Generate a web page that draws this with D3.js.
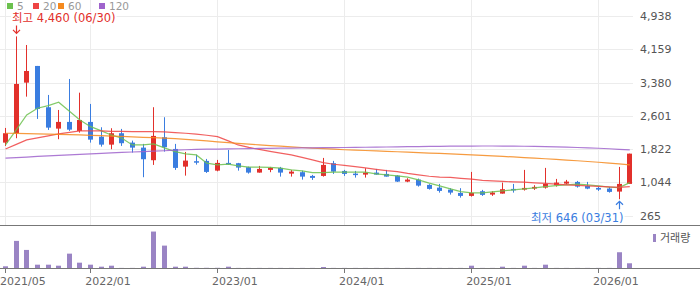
<!DOCTYPE html>
<html>
<head>
<meta charset="utf-8">
<script src="https://cdn.jsdelivr.net/npm/d3@7"></script>
<style>
	body{margin:0;background:#fff;}
	svg{display:block;font-family:"DejaVu Sans",sans-serif;}
</style>
</head>
<body>
<svg id="Chart" width="700" height="289"></svg>
<script>
var months = [
	"2021-05","2021-06","2021-07","2021-08","2021-09","2021-10","2021-11","2021-12",
	"2022-01","2022-02","2022-03","2022-04","2022-05","2022-06","2022-07","2022-08","2022-09","2022-10","2022-11","2022-12",
	"2023-01","2023-02","2023-03","2023-04","2023-05","2023-06","2023-07","2023-08","2023-09","2023-10","2023-11","2023-12",
	"2024-01","2024-02","2024-03","2024-04","2024-05","2024-06","2024-07","2024-08","2024-09","2024-10","2024-11","2024-12",
	"2025-01","2025-02","2025-03","2025-04","2025-05","2025-06","2025-07","2025-08","2025-09","2025-10","2025-11","2025-12",
	"2026-01","2026-02","2026-03","2026-04"
];
var opens  = [1972,2192,3377,3768,2801,2300,2457,2246, 2457,2112,1925,2192,1972,1855,1560,2098,1824,1410,1537,1544,
	1316,1497,1490,1396,1270,1333,1380,1246,1279,1192,1192,1490, 1309,1246,1223,1270,1239,1199,1059,1106,982,918,872,794,
	724,834,755,778,888,872,896,918,975,1012,1052,958, 911,896,825,1005];
var highs  = [2316,4460,4259,3768,3089,2737,3463,3142, 2878,2332,2309,2293,2019,1942,2801,2567,1942,1754,1691,1590,
	1567,1801,1497,1410,1426,1403,1403,1333,1316,1216,1614,1544, 1333,1309,1373,1356,1333,1210,1138,1130,998,1005,905,905,
	1286,865,834,1036,1005,1333,975,1380,1122,1099,1075,1052, 942,935,1403,1714];
var lows   = [1895,2075,3049,2527,2269,2052,2246,2206, 1972,1878,1817,1895,1738,1162,1450,1761,1333,1199,1457,1262,
	1300,1450,1316,1246,1270,1279,1176,1176,1106,1099,1176,1239, 1192,1153,1153,1223,1176,1050,1045,942,872,801,755,684,
	708,724,724,778,801,849,865,895,942,989,918,881, 841,801,646,1005];
var closes = [2192,3346,3650,2761,2323,2457,2276,2503, 2042,1925,2192,1958,1855,1583,2129,1864,1380,1551,1504,1286,
	1497,1466,1387,1270,1356,1380,1270,1293,1176,1146,1450,1293, 1239,1223,1270,1223,1176,1059,1106,965,888,841,801,724,
	794,748,802,881,865,911,935,1005,1036,1059,942,895, 872,818,1005,1714];
var volumes = [170,2700,1800,330,330,230,1430,530, 330,130,230,10,10,130,3630,2230,130,130,20,20,
	20,130,10,10,10,10,10,10,10,10,100,10, 10,10,10,10,10,10,10,10,10,10,10,10,
	230,10,10,130,10,230,10,330,10,10,10,10, 10,10,1570,470];

var ma5   = [1918,2269,2620,2777,2838,2918,2707,2503, 2346,2246,2152,2075,1918,1918,1942,1848,1761,1707,1684,1490,
	1450,1466,1426,1396,1396,1392,1373,1333,1309,1270,1270,1279, 1279,1279,1279,1239,1216,1192,1162,1099,1022,958,888,825,
	794,794,818,841,865,888,911,942,965,982,998,982, 958,928,918,1036];
var ma20  = [1824,1930,2035,2082,2129,2176,2211,2246, 2246,2246,2234,2234,2230,2230,2230,2222,2206,2192,2169,2145,
	2112,2012,1918,1860,1813,1766,1724,1684,1625,1567,1504,1466, 1438,1410,1380,1345,1316,1293,1251,1216,1185,1162,1157,1134,
	1115,1087,1075,1064,1052,1045,1029,1017,998,982,970,958, 947,935,923,942];
var ma60  = [2192,2188,2183,2178,2172,2165,2158,2152, 2144,2135,2126,2117,2107,2097,2087,2076,2066,2050,2032,2012,
	1990,1972,1955,1937,1920,1902,1888,1873,1858,1844,1830,1818, 1805,1796,1787,1778,1768,1758,1748,1738,1728,1718,1708,1696,
	1684,1672,1660,1648,1636,1622,1608,1594,1580,1564,1548,1530, 1512,1492,1472,1450];
var ma120 = [1607,1620,1634,1648,1660,1672,1684,1696, 1708,1720,1731,1742,1752,1762,1772,1782,1795,1805,1812,1818,
	1822,1826,1829,1832,1835,1838,1841,1844,1847,1850,1853,1856, 1858,1861,1864,1867,1870,1873,1876,1879,1882,1885,1888,1890,
	1892,1893,1893,1892,1890,1887,1883,1878,1872,1866,1858,1850, 1840,1829,1816,1801];

var yTicks = [265,1044,1822,2601,3380,4159,4938];
var xTicks = ["2021-05","2022-01","2023-01","2024-01","2025-01","2026-01"];
var legendNames = ["5","20","60","120"];
var legendColors = ["#6cc14e","#ee4444","#f5891e","#9f63cc"];

var svg = d3.select("#Chart"),
	W = 700, plotRight = 633,
	priceBottom = 225, volTop = 225, volBottom = 268,
	parseMonth = d3.timeParse("%Y-%m"),
	upColor = "#e2302b",
	downColor = "#3a7de0",
	volColor = "#9a84c4",
	labelFont = "'DejaVu Sans','Noto Sans CJK KR',sans-serif";

var data = months.map(function(m, i){
	return {date: parseMonth(m), o: opens[i], h: highs[i], l: lows[i], c: closes[i], v: volumes[i],
		ma: [ma5[i], ma20[i], ma60[i], ma120[i]]};
});

var x = d3.scaleTime()
	.domain([parseMonth("2021-05"), parseMonth("2026-01")])
	.range([5, 598]);
var y = d3.scaleLinear().domain([265, 4938]).range([215.5, 16]);
var yv = d3.scaleLinear().domain([0, d3.max(volumes) * 1.18]).range([volBottom, volTop]);

function px(d){ return Math.round(x(d.date)); }

/*
 * Grid
 */
svg.append("g").selectAll("line").data(yTicks).enter().append("line")
	.attr("x1", 0).attr("x2", plotRight)
	.attr("y1", function(d){ return Math.round(y(d)) + 0.5; })
	.attr("y2", function(d){ return Math.round(y(d)) + 0.5; })
	.style("stroke", "#ececec");

svg.append("g").selectAll("line").data(xTicks).enter().append("line")
	.attr("x1", function(d){ return Math.round(x(parseMonth(d))) + 0.5; })
	.attr("x2", function(d){ return Math.round(x(parseMonth(d))) + 0.5; })
	.attr("y1", 0).attr("y2", priceBottom)
	.style("stroke", "#ececec");

/*
 * Y labels
 */
svg.append("g").selectAll("text").data(yTicks).enter().append("text")
	.attr("x", 640).attr("y", function(d){ return y(d) + 4; })
	.style("font-size", "11px").style("fill", "#555")
	.text(d3.format(","));

/*
 * Candles
 */
var candles = svg.append("g").selectAll("g").data(data).enter().append("g")
	.style("fill", function(d){ return d.c >= d.o ? upColor : downColor; })
	.style("stroke", function(d){ return d.c >= d.o ? upColor : downColor; });

candles.append("line")
	.attr("x1", function(d){ return px(d) + 0.5; })
	.attr("x2", function(d){ return px(d) + 0.5; })
	.attr("y1", function(d){ return y(d.h); })
	.attr("y2", function(d){ return y(d.l); });

candles.append("rect")
	.attr("x", function(d){ return px(d) - 2; })
	.attr("width", 5)
	.attr("y", function(d){ return y(Math.max(d.o, d.c)); })
	.attr("height", function(d){ return Math.max(1.5, Math.abs(y(d.o) - y(d.c))); })
	.style("stroke", "none");

/*
 * Moving averages
 */
legendColors.forEach(function(color, k){
	var line = d3.line()
		.x(function(d){ return x(d.date) + 0.5; })
		.y(function(d){ return y(d.ma[k]); });
	svg.append("path").datum(data)
		.attr("d", line)
		.style("fill", "none")
		.style("stroke", color)
		.style("stroke-width", 1.2)
		.style("opacity", 0.85);
});

/*
 * Volume
 */
svg.append("g").selectAll("rect").data(data).enter().append("rect")
	.attr("x", function(d){ return px(d) - 2; })
	.attr("width", 5)
	.attr("y", function(d){ return yv(d.v); })
	.attr("height", function(d){ return volBottom - yv(d.v); })
	.style("fill", volColor);

svg.append("line").attr("x1", 0).attr("x2", W).attr("y1", volTop + 0.5).attr("y2", volTop + 0.5)
	.style("stroke", "#777");
svg.append("line").attr("x1", 0).attr("x2", W).attr("y1", volBottom + 0.5).attr("y2", volBottom + 0.5)
	.style("stroke", "#777");

/*
 * X axis
 */
var xAxis = svg.append("g");
xAxis.selectAll("line").data(xTicks).enter().append("line")
	.attr("x1", function(d){ return Math.round(x(parseMonth(d))) + 0.5; })
	.attr("x2", function(d){ return Math.round(x(parseMonth(d))) + 0.5; })
	.attr("y1", volBottom).attr("y2", volBottom + 5)
	.style("stroke", "#777");
xAxis.selectAll("text").data(xTicks).enter().append("text")
	.attr("x", function(d){ return x(parseMonth(d)) - 5; })
	.attr("y", 285)
	.style("font-size", "11px").style("fill", "#666")
	.text(function(d){ return d3.timeFormat("%Y/%m")(parseMonth(d)); });

/*
 * Legends
 */
var legend = svg.append("g").selectAll("g").data(legendNames).enter().append("g")
	.attr("transform", function(d, i){ return "translate(" + [7, 33, 58, 99][i] + ",0)"; });
legend.append("rect").attr("y", 3).attr("width", 6).attr("height", 6)
	.style("fill", function(d, i){ return legendColors[i]; });
legend.append("text").attr("x", 10).attr("y", 9.5)
	.style("font-size", "10.5px").style("fill", "#999")
	.text(function(d){ return d; });

svg.append("rect").attr("x", 653).attr("y", 234).attr("width", 3).attr("height", 8).style("fill", volColor);
svg.append("text").attr("x", 660).attr("y", 242)
	.style("font-family", "'Noto Sans CJK KR',sans-serif")
	.style("font-size", "11px").style("fill", "#555")
	.text("거래량");

/*
 * High / low marks
 */
var hiIdx = d3.maxIndex(highs), loIdx = d3.minIndex(lows);
var hi = data[hiIdx], lo = data[loIdx];
var fmt = d3.format(",");

function Label(text, xPos, yPos, anchor, color){
	var g = svg.append("g");
	var t = g.append("text").attr("x", xPos).attr("y", yPos)
		.attr("text-anchor", anchor)
		.style("font-family", labelFont)
		.style("font-size", "11.5px").style("fill", color)
		.text(text);
	var b = t.node().getBBox();
	g.insert("rect", "text").attr("x", b.x - 1).attr("y", yPos - 10).attr("width", b.width + 2).attr("height", 13)
		.style("fill", "#fff");
}

var hx = px(hi) + 0.5, hy = y(hi.h);
svg.append("path")
	.attr("d", "M" + hx + "," + (hy - 11) + "V" + (hy - 3) + "M" + (hx - 3.5) + "," + (hy - 6.5) + "L" + hx + "," + (hy - 3) + "L" + (hx + 3.5) + "," + (hy - 6.5))
	.style("fill", "none").style("stroke", upColor).style("stroke-width", 1.2);
Label("최고 " + fmt(hi.h) + " (06/30)", 12, 22, "start", upColor);

var lx = px(lo) + 0.5, ly = y(lo.l);
svg.append("path")
	.attr("d", "M" + lx + "," + (ly + 10) + "V" + (ly + 2) + "M" + (lx - 3.5) + "," + (ly + 5.5) + "L" + lx + "," + (ly + 2) + "L" + (lx + 3.5) + "," + (ly + 5.5))
	.style("fill", "none").style("stroke", downColor).style("stroke-width", 1.2);
Label("최저 " + fmt(lo.l) + " (03/31)", lx + 4, 222, "end", downColor);
</script>
</body>
</html>
